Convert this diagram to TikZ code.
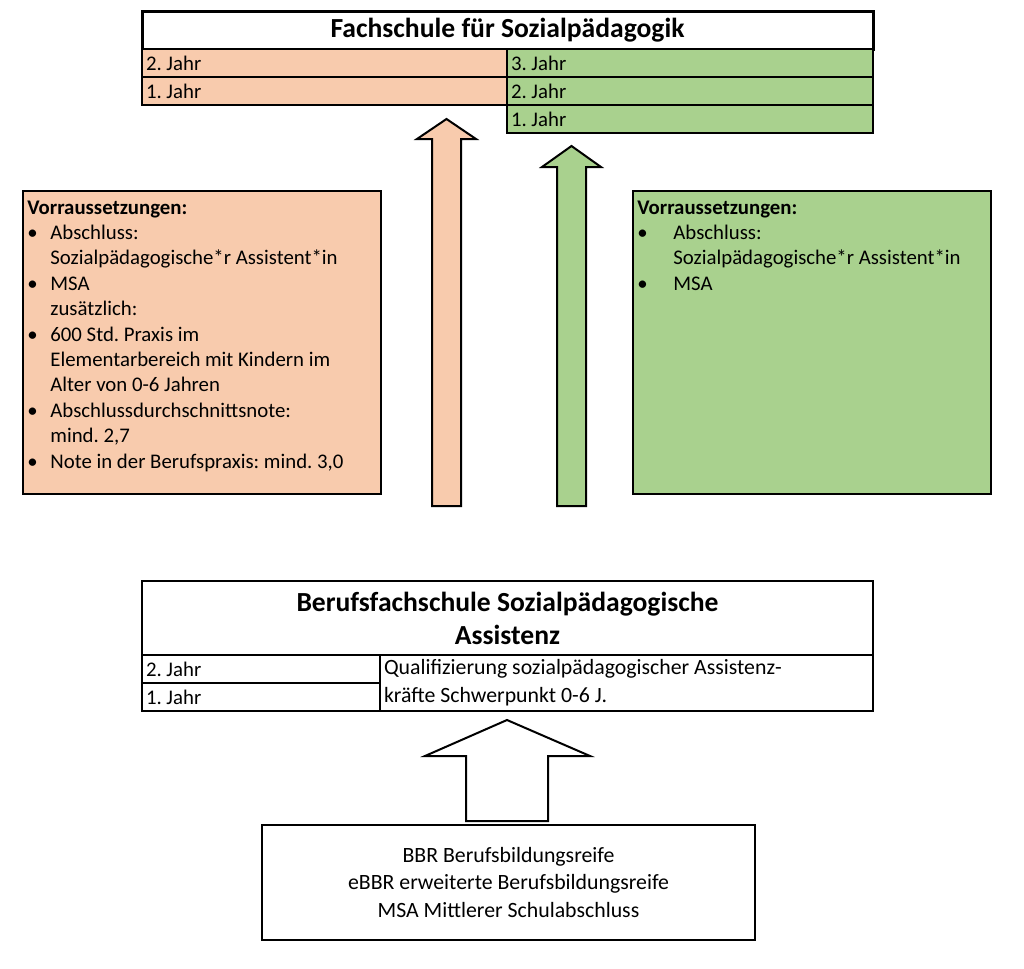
\documentclass[tikz,border=0pt]{standalone}
\usepackage{fontspec}
\setmainfont{Carlito}
\usetikzlibrary{positioning}

\definecolor{orangehell}{HTML}{F8CBAD}
\definecolor{gruenhell}{HTML}{A9D18E}

\tikzset{
  titel/.style={draw, line width=1.5pt, outer sep=0pt, inner sep=0pt, anchor=north west,
    minimum width=365.5pt, align=center, font=\fontsize{13.8}{16.5}\selectfont\bfseries},
  jahr/.style={draw, line width=0.8pt, outer sep=0pt, inner xsep=2pt, inner ysep=0pt,
    anchor=north west, minimum height=14pt, text width=#1, align=flush left},
  kasten/.style={draw, line width=1pt, outer sep=0pt, inner sep=0pt, anchor=north west},
  liste/.style={anchor=north west, inner sep=0pt},
  pfeil/.style={draw, line width=1pt},
}

\begin{document}
\begin{tikzpicture}[x=0.5pt, y=-0.5pt, font=\fontsize{10.4}{12.7}\selectfont\frenchspacing]
\useasboundingbox (0,0) rectangle (1024,969);

% Fachschule
\node[titel, minimum height=19pt] (fs) at (142,11) {Fachschule für Sozialpädagogik};
\node[jahr=178.5pt, fill=orangehell] (fso2) at (142,49) {2. Jahr};
\node[jahr=178.5pt, fill=orangehell] (fso1) at (142,77) {1. Jahr};
\node[jahr=179pt, fill=gruenhell] (fsg3) at (507,49) {3. Jahr};
\node[jahr=179pt, fill=gruenhell] (fsg2) at (507,77) {2. Jahr};
\node[jahr=179pt, fill=gruenhell] (fsg1) at (507,105) {1. Jahr};

% Pfeile nach oben
\draw[pfeil, fill=orangehell] (432,506) -- (432,139) -- (417,139) -- (446.5,119)
  -- (476,139) -- (461,139) -- (461,506) -- cycle;
\draw[pfeil, fill=gruenhell] (557,506) -- (557,167) -- (542,167) -- (571.5,146)
  -- (601,167) -- (586,167) -- (586,506) -- cycle;

% Voraussetzungen links
\node[kasten, fill=orangehell, minimum width=179pt, minimum height=151.5pt] (vlinks) at (23,191) {};
\node[liste] (vlinkstext) at ([xshift=2pt, yshift=-2.5pt]vlinks.north west) {%
  \begin{tabular}{@{}p{11.5pt}@{}l@{}}
  \multicolumn{2}{@{}l@{}}{\textbf{Vorraussetzungen:}}\\
  \textbullet & Abschluss:\\
   & Sozialpädagogische*r Assistent*in\\
  \textbullet & MSA\\
   & zusätzlich:\\
  \textbullet & 600 Std. Praxis im\\
   & Elementarbereich mit Kindern im\\
   & Alter von 0-6 Jahren\\
  \textbullet & Abschlussdurchschnittsnote:\\
   & mind. 2,7\\
  \textbullet & Note in der Berufspraxis: mind. 3,0
  \end{tabular}};

% Voraussetzungen rechts
\node[kasten, fill=gruenhell, minimum width=179pt, minimum height=151.5pt] (vrechts) at (633,191) {};
\node[liste] (vrechtstext) at ([xshift=2pt, yshift=-2.5pt]vrechts.north west) {%
  \begin{tabular}{@{}p{18pt}@{}l@{}}
  \multicolumn{2}{@{}l@{}}{\textbf{Vorraussetzungen:}}\\
  \textbullet & Abschluss:\\
   & Sozialpädagogische*r Assistent*in\\
  \textbullet & MSA
  \end{tabular}};

% Berufsfachschule
\node[titel, line width=1pt, minimum height=37pt] (bfs) at (142,581)
  {Berufsfachschule Sozialpädagogische\\Assistenz};
\node[jahr=115pt] (bfs2) at (142,655) {2. Jahr};
\node[jahr=115pt] (bfs1) at (142,683) {1. Jahr};
\node[jahr=242.5pt, minimum height=28pt, font=\fontsize{10.9}{14}\selectfont] (quali) at (380,655)
  {Qualifizierung sozialpädagogischer Assistenz-\\kräfte Schwerpunkt 0-6 J.};

% Pfeil und Schulabschluesse
\draw[pfeil, fill=white] (466,821) -- (466,756) -- (425,756) -- (507,720)
  -- (590,756) -- (548,756) -- (548,821) -- cycle;
\node[kasten, minimum width=246.5pt, minimum height=57.5pt, align=center,
  font=\fontsize{10.9}{13.75}\selectfont] (abschluss) at (262,825)
  {BBR Berufsbildungsreife\\eBBR erweiterte Berufsbildungsreife\\MSA Mittlerer Schulabschluss};
\end{tikzpicture}
\end{document}
